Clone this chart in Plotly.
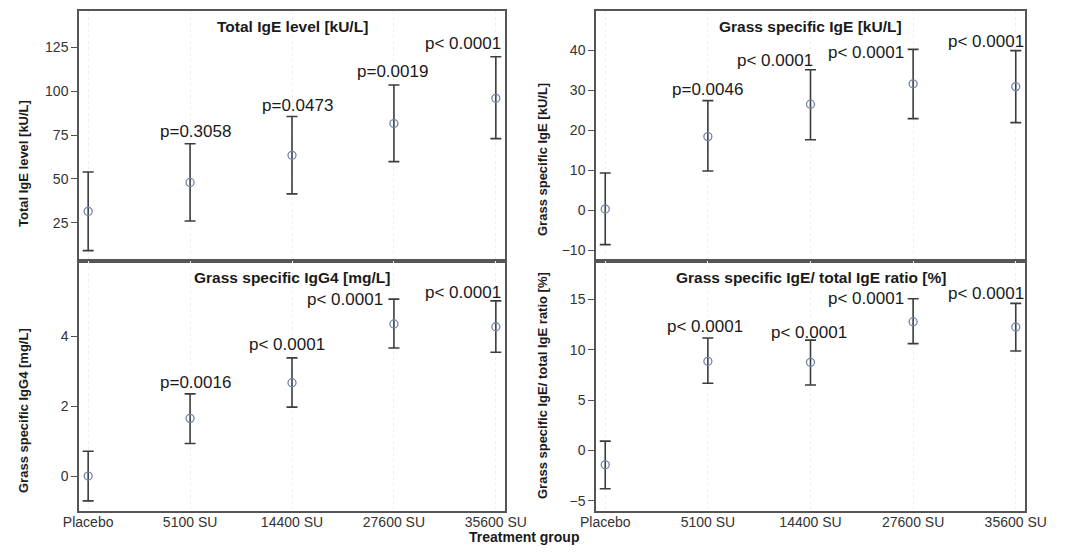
import plotly.graph_objects as go

categories = ["Placebo", "5100 SU", "14400 SU", "27600 SU", "35600 SU"]

total_ige_mean = [31.5, 48.0, 63.5, 81.6, 96.0]
total_ige_lower = [9.1, 26.0, 41.5, 59.9, 73.0]
total_ige_upper = [54.0, 70.1, 85.6, 103.6, 119.7]
total_ige_p = ["", "p=0.3058", "p=0.0473", "p=0.0019", "p< 0.0001"]

grass_ige_mean = [0.3, 18.4, 26.5, 31.6, 30.9]
grass_ige_lower = [-8.6, 9.8, 17.6, 22.9, 21.9]
grass_ige_upper = [9.3, 27.4, 35.1, 40.2, 39.9]
grass_ige_p = ["", "p=0.0046", "p< 0.0001", "p< 0.0001", "p< 0.0001"]

igg4_mean = [0.0, 1.65, 2.67, 4.35, 4.27]
igg4_lower = [-0.71, 0.93, 1.97, 3.66, 3.54]
igg4_upper = [0.71, 2.35, 3.38, 5.06, 5.01]
igg4_p = ["", "p=0.0016", "p< 0.0001", "p< 0.0001", "p< 0.0001"]

ratio_mean = [-1.42, 8.85, 8.75, 12.78, 12.25]
ratio_lower = [-3.8, 6.67, 6.5, 10.6, 9.87]
ratio_upper = [0.93, 11.16, 10.95, 15.06, 14.6]
ratio_p = ["", "p< 0.0001", "p< 0.0001", "p< 0.0001", "p< 0.0001"]

total_ige_ticks = [25, 50, 75, 100, 125]
grass_ige_ticks = [-10, 0, 10, 20, 30, 40]
igg4_ticks = [0, 2, 4]
ratio_ticks = [-5, 0, 5, 10, 15]

panel_titles = ["Total IgE level [kU/L]", "Grass specific IgE [kU/L]",
                "Grass specific IgG4 [mg/L]", "Grass specific IgE/ total IgE ratio [%]"]
y_titles = ["Total IgE level [kU/L]", "Grass specific IgE [kU/L]",
            "Grass specific IgG4 [mg/L]", "Grass specific IgE/ total IgE ratio [%]"]
x_title = "Treatment group"

# ---- layout constants ----
W, H = 1065, 554
PAGE_PAD = 8                      # browser body margin
FW, FH = W - 2 * PAGE_PAD, H - 2 * PAGE_PAD
FONT = "Liberation Sans, Arial, sans-serif"
TXT = "#333333"
FRAME = "#555555"
px_x = lambda p: (p - PAGE_PAD) / FW
px_y = lambda p: 1 - (p - PAGE_PAD) / FH

x_dom = [[px_x(79), px_x(505)], [px_x(596), px_x(1025)]]
y_dom_top = [px_y(261), px_y(11)]
y_dom_bot = [px_y(511), px_y(261)]

panels = [
    dict(mean=total_ige_mean, lo=total_ige_lower, hi=total_ige_upper, p=total_ige_p,
         xd=x_dom[0], yd=y_dom_top, yr=[3.2, 145.8], ticks=total_ige_ticks,
         offs=[None, (5, 12), (5, 11), (-1, 13), (-33, 13)], ytitle_y=164, bottom=False),
    dict(mean=grass_ige_mean, lo=grass_ige_lower, hi=grass_ige_upper, p=grass_ige_p,
         xd=x_dom[1], yd=y_dom_top, yr=[-12.7, 49.8], ticks=grass_ige_ticks,
         offs=[None, (0, 11), (-36, 9), (-47, -3), (-30, 9)], ytitle_y=160, bottom=False),
    dict(mean=igg4_mean, lo=igg4_lower, hi=igg4_upper, p=igg4_p,
         xd=x_dom[0], yd=y_dom_bot, yr=[-1.0, 6.15], ticks=igg4_ticks,
         offs=[None, (5, 11), (-5, 13), (-49, 0), (-33, 8)], ytitle_y=411, bottom=True),
    dict(mean=ratio_mean, lo=ratio_lower, hi=ratio_upper, p=ratio_p,
         xd=x_dom[1], yd=y_dom_bot, yr=[-6.0, 18.8], ticks=ratio_ticks,
         offs=[None, (-3, 12), (-2, 8), (-47, 0), (-30, 10)], ytitle_y=386, bottom=True),
]

fig = go.Figure()
annotations = []
layout_axes = {}

for i, pn in enumerate(panels):
    k = "" if i == 0 else str(i + 1)
    xa, ya = "x" + k, "y" + k
    err_plus = [h - m for h, m in zip(pn["hi"], pn["mean"])]
    err_minus = [m - l for m, l in zip(pn["mean"], pn["lo"])]
    fig.add_trace(go.Scatter(
        x=categories, y=pn["mean"], xaxis=xa, yaxis=ya, mode="markers",
        marker=dict(symbol="circle-open", size=8, color="#7282ad", line=dict(width=1.3)),
        error_y=dict(type="data", symmetric=False, array=err_plus, arrayminus=err_minus,
                     color="#3c3c3c", thickness=1.6, width=5.5),
        showlegend=False, cliponaxis=False,
    ))
    layout_axes["xaxis" + k] = dict(
        domain=pn["xd"], anchor=ya, type="category", range=[-0.09, 4.09],
        showline=True, mirror=True, linecolor=FRAME, linewidth=1.5,
        showgrid=True, gridcolor="#efefef", griddash="dot", gridwidth=1,
        showticklabels=pn["bottom"], ticks="", ticklabelstandoff=-3,
        automargin=False,
        tickfont=dict(family=FONT, size=14, color=TXT), zeroline=False,
        categoryorder="array", categoryarray=categories,
    )
    layout_axes["yaxis" + k] = dict(
        domain=pn["yd"], anchor=xa, range=pn["yr"], tickvals=pn["ticks"],
        showline=True, mirror=True, linecolor=FRAME, linewidth=1.5,
        ticks="outside", ticklen=6, tickcolor=FRAME, tickwidth=1.2,
        showgrid=False, zeroline=False, automargin=False,
        tickfont=dict(family=FONT, size=14, color=TXT),
    )
    annotations.append(dict(
        text="<b>" + panel_titles[i] + "</b>", xref="paper", yref="paper",
        x=(pn["xd"][0] + pn["xd"][1]) / 2, y=pn["yd"][1], yshift=-16,
        xanchor="center", yanchor="middle", showarrow=False,
        font=dict(family=FONT, size=15.5, color="#1a1a1a"),
    ))
    annotations.append(dict(
        text="<b>" + y_titles[i] + "</b>", xref="paper", yref="paper",
        x=px_x(23 if pn["xd"] == x_dom[0] else 542), y=px_y(pn["ytitle_y"]),
        xanchor="center", yanchor="middle", textangle=-90, showarrow=False,
        font=dict(family=FONT, size=13, color="#1a1a1a"),
    ))
    for j, lab in enumerate(pn["p"]):
        if not lab:
            continue
        dx, dy = pn["offs"][j]
        annotations.append(dict(
            text=lab, xref=xa, yref=ya, x=categories[j], y=pn["hi"][j],
            xshift=dx, yshift=dy, xanchor="center", yanchor="middle",
            showarrow=False, font=dict(family=FONT, size=17, color="#1a1a1a"),
        ))

annotations.append(dict(
    text="<b>" + x_title + "</b>", xref="paper", yref="paper",
    x=px_x(524), y=0, xanchor="center", yanchor="bottom", showarrow=False,
    borderpad=0, font=dict(family=FONT, size=14, color="#1a1a1a"),
))

fig.update_layout(
    width=FW, height=FH, margin=dict(l=0, r=0, t=0, b=0, autoexpand=False),
    paper_bgcolor="white", plot_bgcolor="white",
    annotations=annotations, **layout_axes,
)

fig.write_html("out.html")
